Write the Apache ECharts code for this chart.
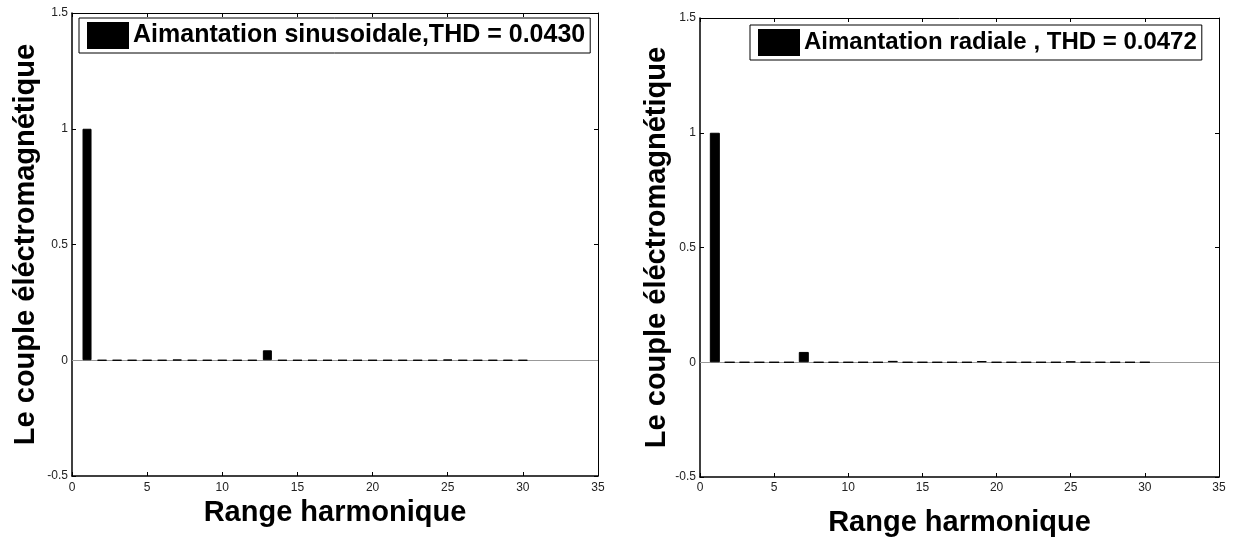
<!DOCTYPE html>
<html>
<head>
<meta charset="utf-8">
<script src="https://cdn.jsdelivr.net/npm/echarts@6/dist/echarts.min.js"></script>
<style>
html, body { margin: 0; padding: 0; background: #fff; }
#chart { width: 1233px; height: 542px; }
</style>
</head>
<body>
<div id="chart"></div>
<script>
// rangs harmoniques
var harmoniques = [1, 2, 3, 4, 5, 6, 7, 8, 9, 10, 11, 12, 13, 14, 15, 16, 17, 18, 19, 20, 21, 22, 23, 24, 25, 26, 27, 28, 29, 30];
// couple normalise, aimantation sinusoidale
var coupleSinus = [1, 0, 0, 0, 0, 0, 0.002, 0, 0, 0, 0, 0, 0.043, 0, 0, 0, 0, 0, 0, 0, 0, 0, 0, 0, 0.002, 0, 0, 0, 0, 0];
// couple normalise, aimantation radiale
var coupleRadial = [1, 0, 0, 0, 0, 0, 0.045, 0, 0, 0, 0, 0, 0.006, 0, 0, 0, 0, 0, 0.005, 0, 0, 0, 0, 0, 0.003, 0, 0, 0, 0, 0];
var nomSinus = 'Aimantation sinusoidale,THD = 0.0430';
var nomRadial = 'Aimantation radiale , THD = 0.0472';
// graduations
var xMin = 0, xMax = 35, xPas = 5;
var yMin = -0.5, yMax = 1.5, yPas = 0.5;

var police = '"Liberation Sans", Arial, sans-serif';

function paires(vals) {
    return harmoniques.map(function (h, i) { return [h, vals[i]]; });
}

function axeX(grid, pos, nameGap, labelMargin) {
    var bas = pos === 'bottom';
    return {
        gridIndex: grid, type: 'value', position: pos,
        min: xMin, max: xMax, interval: xPas,
        axisLine: { onZero: false, lineStyle: { color: '#000', width: bas ? 1.5 : 1 } },
        axisTick: { inside: true, length: 4, lineStyle: { color: '#000' } },
        axisLabel: { show: bas, fontSize: 12, color: '#222', margin: labelMargin, fontFamily: police },
        splitLine: { show: false },
        name: bas ? 'Range harmonique' : '',
        nameLocation: 'middle', nameGap: nameGap,
        nameTextStyle: { fontSize: 29, fontWeight: 'bold', color: '#000', fontFamily: police }
    };
}

function axeY(grid, pos, nameGap) {
    var gauche = pos === 'left';
    return {
        gridIndex: grid, type: 'value', position: pos,
        min: yMin, max: yMax, interval: yPas,
        axisLine: { onZero: false, lineStyle: { color: '#000', width: gauche ? 1.5 : 1 } },
        axisTick: { inside: true, length: 4, lineStyle: { color: '#000' } },
        axisLabel: { show: gauche, fontSize: 12, color: '#222', margin: 4, fontFamily: police },
        splitLine: { show: false },
        name: gauche ? 'Le couple éléctromagnétique' : '',
        nameLocation: 'middle', nameGap: nameGap, nameRotate: 90,
        nameTextStyle: { fontSize: 29, fontWeight: 'bold', color: '#000', fontFamily: police }
    };
}

function legende(nom, left, top, fontSize) {
    return {
        data: [nom], left: left, top: top, icon: 'rect',
        itemWidth: 40, itemHeight: 25, itemGap: 0,
        padding: [4, 5, 4, 8],
        borderColor: '#000', borderWidth: 1, backgroundColor: '#fff',
        textStyle: { fontSize: fontSize, fontWeight: 'bold', color: '#000', fontFamily: police }
    };
}

function barres(nom, vals, ax, largeur) {
    return {
        name: nom, type: 'bar',
        xAxisIndex: ax, yAxisIndex: ax,
        data: paires(vals),
        barWidth: largeur,
        itemStyle: { color: '#000', borderColor: '#000', borderWidth: 1 },
        markLine: {
            silent: true, symbol: 'none', z: 1,
            label: { show: false },
            lineStyle: { color: '#999', type: 'solid', width: 1 },
            data: [{ yAxis: 0 }]
        }
    };
}

var myChart = echarts.init(document.getElementById('chart'));
var option = {
    animation: false,
    grid: [
        { left: 72, top: 13, width: 526, height: 463 },
        { left: 700, top: 18, width: 519, height: 461 }
    ],
    legend: [
        legende(nomSinus, 79, 18, 25),
        legende(nomRadial, 750, 25, 24)
    ],
    xAxis: [
        axeX(0, 'bottom', 21, 6),
        axeX(0, 'top', 0, 0),
        axeX(1, 'bottom', 31, 5),
        axeX(1, 'top', 0, 0)
    ],
    yAxis: [
        axeY(0, 'left', 32),
        axeY(0, 'right', 0),
        axeY(1, 'left', 22),
        axeY(1, 'right', 0)
    ],
    series: [
        barres(nomSinus, coupleSinus, 0, 9),
        barres(nomRadial, coupleRadial, 2, 10)
    ]
};
option && myChart.setOption(option);
</script>
</body>
</html>
